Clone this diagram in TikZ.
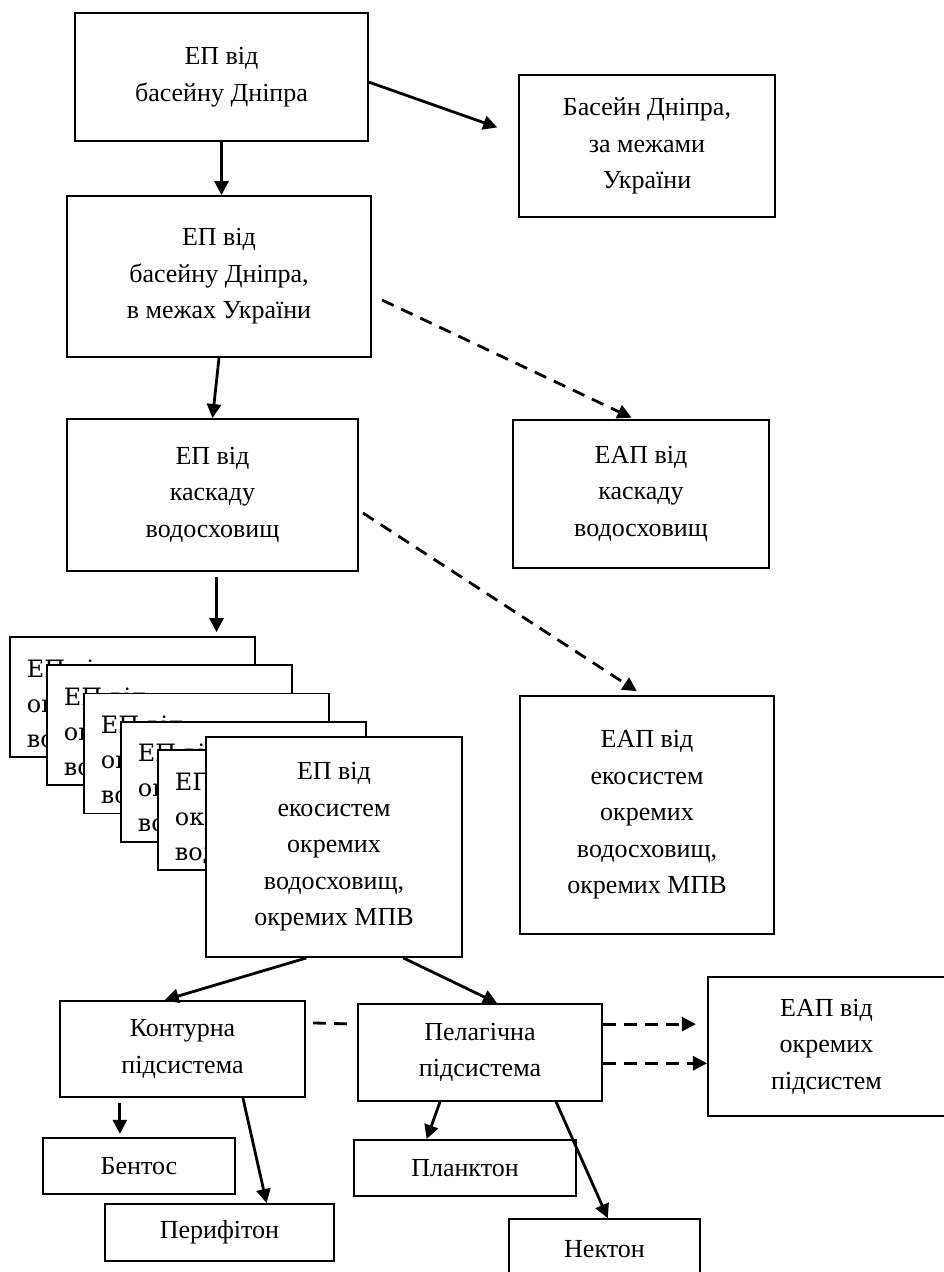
\documentclass[tikz,border=0pt]{standalone}
\usepackage{fontspec}
\setmainfont{Liberation Serif}
\newfontfamily\stackfont{DejaVu Serif}
\usetikzlibrary{arrows.meta}

\begin{document}
\begin{tikzpicture}[x=0.025cm,y=-0.025cm,
  box/.style={draw,line width=1.3pt,fill=white,inner sep=0pt,align=center,
    font=\fontsize{18.5}{26}\selectfont},
  back/.style={box,minimum width=6.125cm,minimum height=3cm,text width=5.275cm,
    text height=0.84cm,align=left,font=\stackfont\fontsize{17}{24.9}\selectfont},
  arr/.style={line width=2pt,-{Triangle[length=10pt,width=10pt]}},
  darr/.style={arr,dash pattern=on 9pt off 6pt},
  dline/.style={line width=2pt,dash pattern=on 9pt off 6pt}]
  \useasboundingbox (0,0) rectangle (943,1272);
  \node[box,minimum width=7.325cm,minimum height=3.2cm] (T) at (221.5,77) {ЕП від\\басейну Дніпра};
  \node[box,minimum width=6.4cm,minimum height=3.55cm] (R) at (647,146) {Басейн Дніпра,\\за межами\\України};
  \node[box,minimum width=7.6cm,minimum height=4.025cm] (B2) at (219,276.5) {ЕП від\\басейну Дніпра,\\в межах України};
  \node[box,minimum width=7.275cm,minimum height=3.8cm] (B3) at (212.5,495) {ЕП від\\каскаду\\водосховищ};
  \node[box,minimum width=6.4cm,minimum height=3.7cm] (C) at (641,494) {ЕАП від\\каскаду\\водосховищ};
  \foreach \x in {1,...,5}{%
    \node[back] (S-\x) at ({132.5+37*(\x-1)},{697+28.25*(\x-1)}) {ЕП від\\окремих\\водосховищ};
  }
  \node[box,minimum width=6.4cm,minimum height=5.5cm] (E) at (334,847) {ЕП від\\екосистем\\окремих\\водосховищ,\\окремих МПВ};
  \node[box,minimum width=6.35cm,minimum height=5.95cm] (F) at (647,815) {ЕАП від\\екосистем\\окремих\\водосховищ,\\окремих МПВ};
  \node[box,minimum width=6.125cm,minimum height=2.4cm] (K) at (182.5,1049) {Контурна\\підсистема};
  \node[box,minimum width=6.1cm,minimum height=2.425cm] (P) at (480,1052.5) {Пелагічна\\підсистема};
  \node[box,minimum width=5.925cm,minimum height=3.475cm] (A) at (826.5,1046.5) {ЕАП від\\окремих\\підсистем};
  \node[box,minimum width=4.8cm,minimum height=1.4cm] (Be) at (139,1166) {Бентос};
  \node[box,minimum width=5.725cm,minimum height=1.425cm] (Pe) at (219.5,1232.5) {Перифітон};
  \node[box,minimum width=5.55cm,minimum height=1.4cm] (Pl) at (465,1168) {Планктон};
  \node[box,minimum width=4.775cm,minimum height=1.525cm] (N) at (604.5,1249.5) {Нектон};

  \draw[arr,shorten >=0.55cm] (T.-2) -- (R.175);
  \draw[arr] (T.south) -- (T.south |- B2.north);
  \draw[arr] (B2.south) -- (B3.north);
  \draw[darr,shorten <=0.28cm,shorten >=0.08cm] (B2.-7) -- (C.95);
  \draw[arr,shorten <=0.12cm,shorten >=0.1cm] (B3.-87) -- (B3.-87 |- S-1.north);
  \draw[darr,shorten <=0.12cm,shorten >=0.18cm] (B3.-6) -- (F.92);
  \draw[arr] (E.-104) -- (K.110);
  \draw[arr] (E.-58) -- (P.71);
  \draw[dline,shorten <=0.18cm,shorten >=0.05cm] (K.12) -- (P.167);
  \draw[darr,shorten >=0.28cm] (P.13) -- (P.13 -| A.west);
  \draw[darr] (P.-5) -- (P.-5 -| A.west);
  \draw[arr,shorten <=0.12cm,shorten >=0.08cm] (K.-142) -- (K.-142 |- Be.north);
  \draw[arr] (K.-39) -- (Pe.32);
  \draw[arr] (P.-129) -- (Pl.143);
  \draw[arr] (P.-33) -- (N.84);
\end{tikzpicture}
\end{document}
